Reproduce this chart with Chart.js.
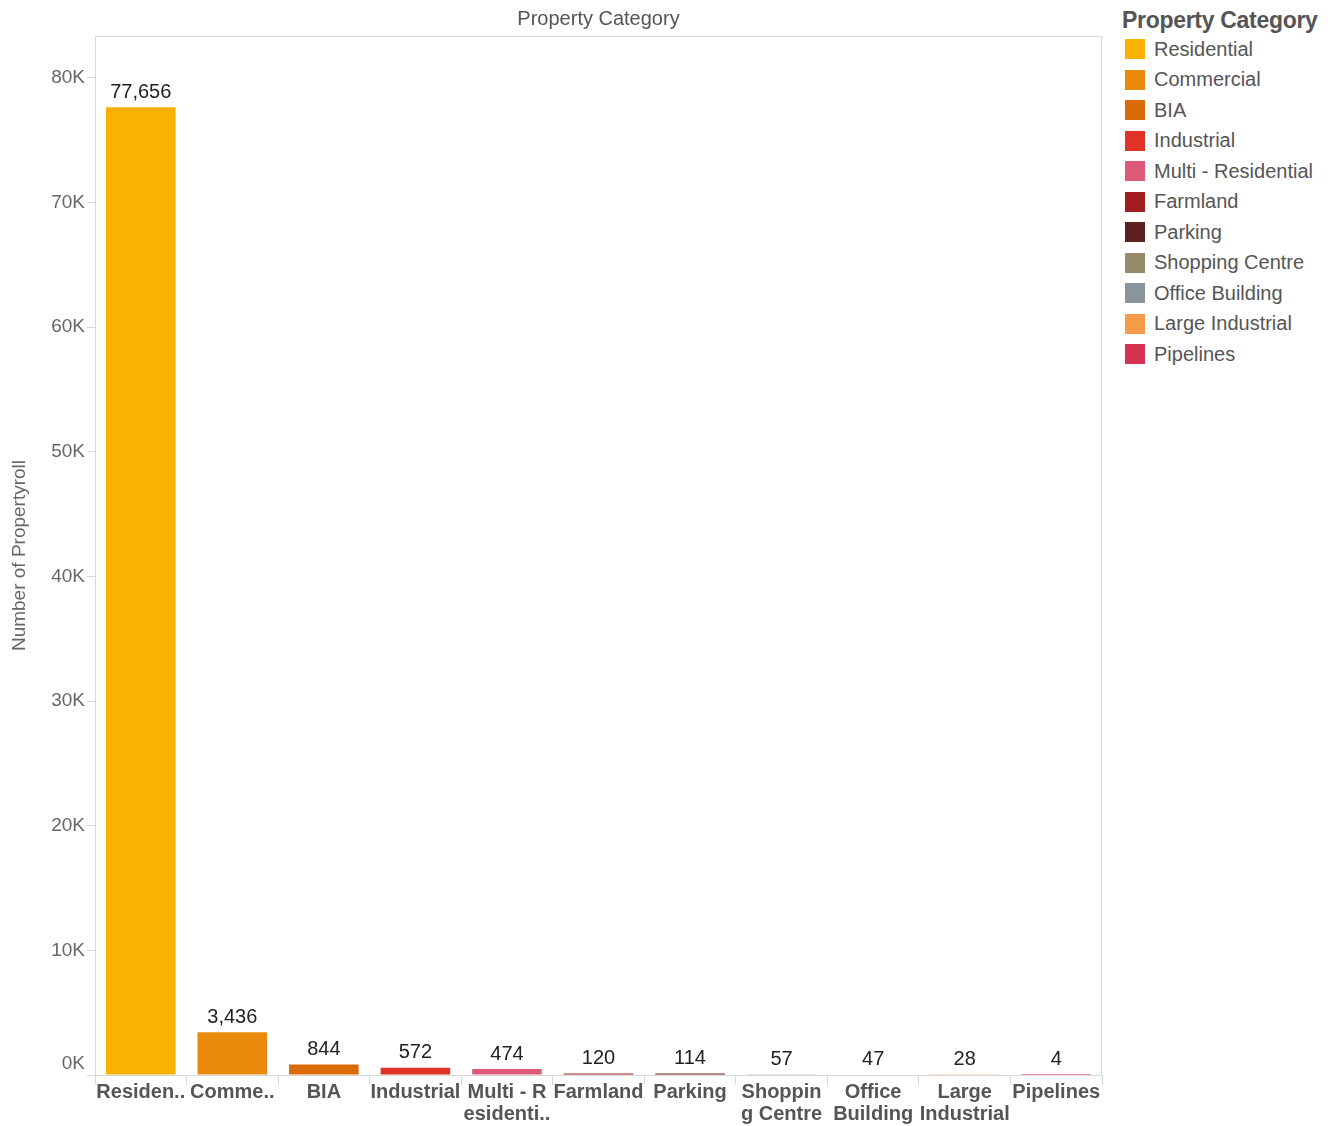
<!DOCTYPE html>
<html>
<head>
<meta charset="utf-8">
<script src="https://cdn.jsdelivr.net/npm/chart.js@4.4.1/dist/chart.umd.min.js"></script>
<style>
  body { margin: 0; background: #fff; font-family: "Liberation Sans", Arial, sans-serif; }
  #wrap { position: relative; width: 1332px; height: 1126px; }
  #box { position: absolute; left: 0; top: 0; width: 1110px; height: 1126px; }
  #legend { position: absolute; left: 1122px; top: 6px; }
  #legend h4 { margin: 0; font-size: 23px; font-weight: bold; color: #555; line-height: 28px; letter-spacing: -0.3px; }
  .item { display: flex; align-items: center; height: 30.5px; font-size: 20px; color: #555; }
  .sw { width: 20px; height: 20px; margin: 0 9px 0 3px; }
</style>
</head>
<body>
<div id="wrap">
  <div id="box"><canvas id="myChart"></canvas></div>
  <div id="legend"></div>
</div>
<script>
const categories = ["Residential", "Commercial", "BIA", "Industrial", "Multi - Residential", "Farmland",
    "Parking", "Shopping Centre", "Office Building", "Large Industrial", "Pipelines"]
const counts = [77656, 3436, 844, 572, 474, 120, 114, 57, 47, 28, 4]
const tickLabels = ["Residen..", "Comme..", "BIA", "Industrial", ["Multi - R", "esidenti.."], "Farmland",
    "Parking", ["Shoppin", "g Centre"], ["Office", "Building"], ["Large", "Industrial"], "Pipelines"]
const yTicks = [0, 10000, 20000, 30000, 40000, 50000, 60000, 70000, 80000]
const colors = ["#fbb104", "#e98a0c", "#db6b08", "#de3326", "#df5a78", "#a21d1f",
    "#5c2020", "#958a6c", "#89959a", "#f59b45", "#d5334f"]

// legend on the right
const legendBox = document.getElementById("legend")
legendBox.innerHTML = "<h4>Property Category</h4>"
categories.forEach((name, i) => {
    const row = document.createElement("div")
    row.classList.add("item")
    const sw = document.createElement("span")
    sw.classList.add("sw")
    sw.style.background = colors[i]
    const txt = document.createElement("span")
    txt.textContent = name
    row.appendChild(sw)
    row.appendChild(txt)
    legendBox.appendChild(row)
})

// frame round the plot, header and value labels
const extras = {
    id: "extras",
    afterDraw(chart) {
        const ctx = chart.ctx
        const a = chart.chartArea
        ctx.save()
        ctx.strokeStyle = "#d9d9d9"
        ctx.lineWidth = 1
        ctx.strokeRect(a.left + 0.5, a.top + 0.5, a.right - a.left - 1, a.bottom - a.top)

        ctx.fillStyle = "#555"
        ctx.font = "20px 'Liberation Sans', Arial"
        ctx.textAlign = "center"
        ctx.textBaseline = "middle"
        ctx.fillText("Property Category", (a.left + a.right) / 2, 19)

        ctx.fillStyle = "#222"
        ctx.font = "20px 'Liberation Sans', Arial"
        ctx.textBaseline = "bottom"
        const meta = chart.getDatasetMeta(0)
        meta.data.forEach((bar, i) => {
            ctx.fillText(counts[i].toLocaleString("en-US"), bar.x, bar.y - 5)
        })
        ctx.restore()
    }
}

new Chart("myChart", {
    type: "bar",
    data: {
        labels: categories,
        datasets: [{
            data: counts,
            backgroundColor: colors,
            barPercentage: 0.76,
            categoryPercentage: 1
        }]
    },
    options: {
        responsive: true,
        maintainAspectRatio: false,
        animation: false,
        layout: { padding: { top: 36, right: 8, left: 0, bottom: 0 } },
        plugins: { legend: { display: false }, tooltip: { enabled: false } },
        scales: {
            x: {
                grid: { offset: true, drawOnChartArea: false, drawTicks: true, tickLength: 10, color: "#d9d9d9" },
                border: { display: false },
                ticks: {
                    callback: (v, i) => tickLabels[i],
                    color: "#555",
                    font: { size: 20, weight: "bold", family: "'Liberation Sans', Arial", lineHeight: 1.1 },
                    padding: -4,
                    maxRotation: 0,
                    autoSkip: false
                },
                afterFit: scale => { scale.height = 51 }
            },
            y: {
                min: 0,
                max: 83370,
                afterBuildTicks: scale => { scale.ticks = yTicks.map(v => ({ value: v })) },
                grid: { drawOnChartArea: false, drawTicks: true, tickLength: 8, color: "#d9d9d9" },
                border: { display: false },
                ticks: {
                    // zero label sits a little above its tick, as in the original
                    callback: v => v === 0 ? ["0K", ""] : (v / 1000) + "K",
                    color: "#666",
                    font: { size: 19, family: "'Liberation Sans', Arial", lineHeight: 1.2 },
                    padding: 2
                },
                title: {
                    display: true,
                    text: "Number of Propertyroll",
                    color: "#666",
                    font: { size: 19, family: "'Liberation Sans', Arial" },
                    padding: { top: 8, bottom: 0 }
                },
                afterFit: scale => { scale.width = 95 }
            }
        }
    },
    plugins: [extras]
});
</script>
</body>
</html>
